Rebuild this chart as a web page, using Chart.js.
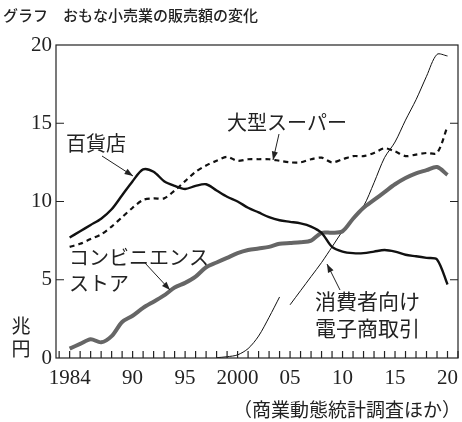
<!DOCTYPE html>
<html><head><meta charset="utf-8">
<script src="https://cdn.jsdelivr.net/npm/chart.js@4"></script>
<style>body{margin:0;background:#fff}canvas{display:block}</style>
</head><body><canvas id="c" width="462" height="422"></canvas>
<script>
const years=[];for(let y=1984;y<=2020;y++)years.push(y);
const dept=[7.7,8.1,8.5,8.9,9.5,10.4,11.3,12.05,11.9,11.3,11.0,10.8,11.0,11.1,10.7,10.3,10.0,9.6,9.3,9.0,8.8,8.7,8.6,8.4,8.0,7.1,6.8,6.7,6.7,6.8,6.9,6.8,6.6,6.5,6.4,6.3,4.7];
const superm=[7.1,7.3,7.6,7.9,8.4,9.0,9.6,10.1,10.2,10.2,10.7,11.3,11.9,12.3,12.6,12.85,12.6,12.7,12.7,12.7,12.6,12.5,12.5,12.7,12.8,12.5,12.7,12.9,12.9,13.1,13.4,13.2,12.9,13.0,13.1,13.1,14.8];
const conv=[0.6,0.9,1.2,1.0,1.4,2.3,2.7,3.2,3.6,4.0,4.5,4.8,5.2,5.8,6.1,6.4,6.7,6.9,7.0,7.1,7.3,7.35,7.4,7.5,8.0,8.0,8.1,8.9,9.6,10.1,10.6,11.1,11.5,11.8,12.0,12.2,11.7];
const ecOldYears=[1998,1999,2000,2001,2002,2003,2004];
const ecOld=[0.02,0.08,0.2,0.6,1.4,2.6,3.9];
const ecNewYears=[2005,2006,2007,2008,2009,2010,2011,2012,2013,2014,2015,2016,2017,2018,2019,2020];
const ecNew=[3.4,4.3,5.2,6.1,7.1,8.1,8.9,9.7,11.2,12.8,13.8,15.2,16.5,18.0,19.4,19.3];
const xTickVals=[1984,1990,1995,2000,2005,2010,2015,2020];
const xTickLabels=['1984','90','95','2000','05','10','15','20'];
const yTickVals=[0,5,10,15,20];
const pts=(xs,ys)=>xs.map((x,i)=>({x:x,y:ys[i]}));
const jp='"Noto Sans CJK JP"';
const deco={id:'deco',afterDraw(ch){
 const c=ch.ctx,a=ch.chartArea,xs=ch.scales.x,ys=ch.scales.y;
 c.save();c.strokeStyle='#222';c.lineWidth=1.2;
 c.strokeRect(a.left,a.top,a.right-a.left,a.bottom-a.top);
 for(let y=1983;y<=2021;y++){const p=xs.getPixelForValue(y);if(p<a.left||p>a.right)continue;c.beginPath();c.moveTo(p,a.bottom);c.lineTo(p,a.bottom-7);c.stroke();}
 yTickVals.slice(1,-1).forEach(v=>{const p=ys.getPixelForValue(v);c.beginPath();c.moveTo(a.left,p);c.lineTo(a.left+8,p);c.moveTo(a.right,p);c.lineTo(a.right-8,p);c.stroke();});
 c.fillStyle='#222';c.font='21px "Liberation Serif"';c.textBaseline='middle';
 c.textAlign='right';yTickVals.forEach(v=>c.fillText(String(v),a.left-4,ys.getPixelForValue(v)));
 c.textAlign='center';xTickVals.forEach((v,i)=>c.fillText(xTickLabels[i],xs.getPixelForValue(v),a.bottom+20));
 c.font='500 15px '+jp;c.textAlign='left';
 c.fillText('グラフ　おもな小売業の販売額の変化',3,15);
 c.font='19px '+jp;c.textAlign='right';c.fillText('（商業動態統計調査ほか）',461,410);
 c.font='19px '+jp;c.textAlign='center';c.fillText('兆',21,326);c.fillText('円',21,349);
 c.font='20px '+jp;c.textAlign='left';
 c.fillText('百貨店',66,143);c.fillText('大型スーパー',227,122);
 c.fillText('コンビニエンス',69,257);c.fillText('ストア',69,283);
 c.font='21px '+jp;
 c.fillText('消費者向け',315,301);c.fillText('電子商取引',315,328);
 const arr=(x1,y1,x2,y2)=>{c.beginPath();c.moveTo(x1,y1);c.lineTo(x2,y2);c.stroke();const an=Math.atan2(y2-y1,x2-x1);c.beginPath();c.moveTo(x2,y2);c.lineTo(x2-9*Math.cos(an-0.35),y2-9*Math.sin(an-0.35));c.lineTo(x2-9*Math.cos(an+0.35),y2-9*Math.sin(an+0.35));c.closePath();c.fill();};
 c.lineWidth=1;
 arr(102,156,133,176);arr(279,134,273,160);arr(145,263,170,290);arr(340,290,327,264);
 c.restore();}};
new Chart(document.getElementById('c'),{type:'line',
 data:{datasets:[
  {data:pts(years,dept),borderColor:'#111',borderWidth:2.4},
  {data:pts(years,superm),borderColor:'#111',borderWidth:2.2,borderDash:[5,4]},
  {data:pts(years,conv),borderColor:'#666',borderWidth:4},
  {data:pts(ecOldYears,ecOld),borderColor:'#111',borderWidth:1},
  {data:pts(ecNewYears,ecNew),borderColor:'#111',borderWidth:1}]},
 options:{responsive:false,animation:false,devicePixelRatio:1,
  layout:{padding:{left:56,right:4,top:45,bottom:64}},
  plugins:{legend:{display:false},tooltip:{enabled:false}},
  elements:{point:{radius:0},line:{tension:0.3,borderCapStyle:'butt'}},
  scales:{x:{type:'linear',min:1982.7,max:2021,display:false},
   y:{min:0,max:20,display:false}}},
 plugins:[deco]});
</script></body></html>
